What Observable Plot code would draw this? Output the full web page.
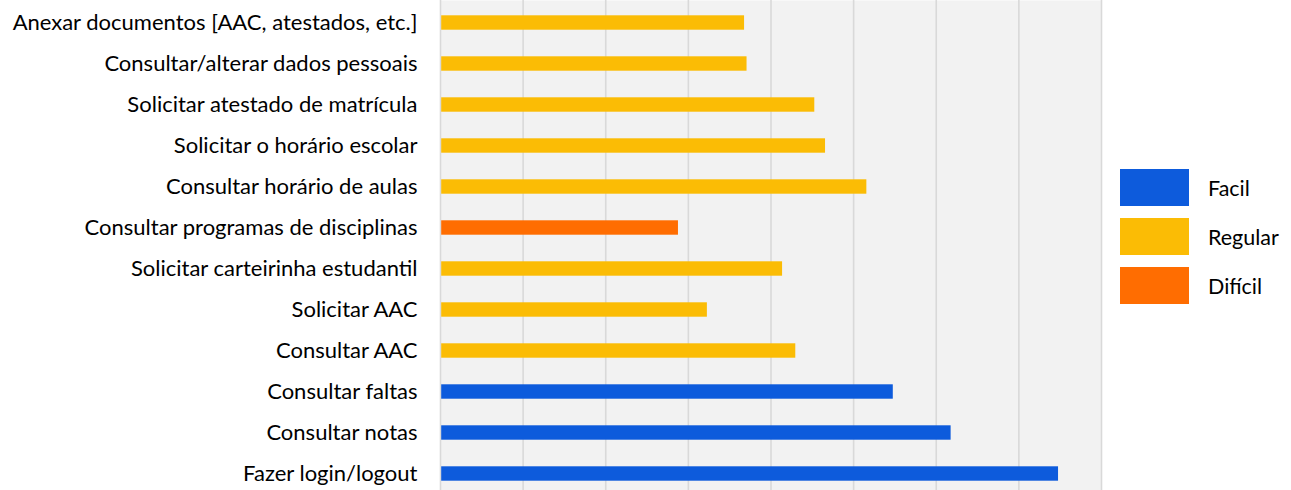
<!DOCTYPE html>
<html>
<head>
<meta charset="utf-8">
<script src="https://cdn.jsdelivr.net/npm/d3@7"></script>
<script src="https://cdn.jsdelivr.net/npm/@observablehq/plot@0.6"></script>
<style>
  html, body { margin: 0; padding: 0; background: #fff; }
  #wrap { position: relative; width: 1291px; height: 490px; overflow: hidden; }
  #legend { position: absolute; left: 1120px; top: 169px; font-family: Lato, sans-serif; font-size: 21.5px; color: #000; }
  .item { display: flex; align-items: center; height: 37px; margin-bottom: 12px; }
  .sw { width: 69px; height: 37px; margin-right: 19px; }
</style>
</head>
<body>
<div id="wrap"></div>
<script>
const tasks = [
  "Anexar documentos [AAC, atestados, etc.]",
  "Consultar/alterar dados pessoais",
  "Solicitar atestado de matrícula",
  "Solicitar o horário escolar",
  "Consultar horário de aulas",
  "Consultar programas de disciplinas",
  "Solicitar carteirinha estudantil",
  "Solicitar AAC",
  "Consultar AAC",
  "Consultar faltas",
  "Consultar notas",
  "Fazer login/logout"
];
const values = [3.68, 3.71, 4.53, 4.66, 5.16, 2.88, 4.14, 3.23, 4.30, 5.48, 6.18, 7.48];
const levels = ["Regular", "Regular", "Regular", "Regular", "Regular", "Difícil", "Regular", "Regular", "Regular", "Facil", "Facil", "Facil"];
const categories = ["Facil", "Regular", "Difícil"];
const colors = ["#0d5bdc", "#fbbc05", "#ff6d01"];
const gridTicks = [0, 1, 2, 3, 4, 5, 6, 7, 8];

const data = tasks.map((t, i) => ({task: t, value: values[i], level: levels[i]}));

const chart = Plot.plot({
  width: 1291,
  height: 490,
  marginLeft: 440,
  marginRight: 190,
  marginTop: 0,
  marginBottom: 0,
  style: {fontFamily: "Lato, sans-serif", fontSize: "22px", color: "#000", background: "#fff"},
  x: {domain: [0, 8], axis: null},
  y: {domain: tasks, range: [1.45, 494.5], padding: 0, axis: null},
  color: {domain: categories, range: colors},
  marks: [
    Plot.frame({fill: "#f2f2f2", stroke: null}),
    Plot.ruleX(gridTicks, {stroke: "#d9d9d9", strokeWidth: 1.6}),
    Plot.barX(data, {y: "task", x: "value", fill: "level", insetTop: 13.3, insetBottom: 13.3, insetLeft: 1.2}),
    Plot.axisY({tickSize: 0, tickPadding: 23, fontSize: 22, fill: "#000", label: null})
  ]
});
document.getElementById("wrap").appendChild(chart);

const legend = document.createElement("div");
legend.id = "legend";
categories.forEach((c, i) => {
  const item = document.createElement("div");
  item.className = "item";
  const sw = document.createElement("div");
  sw.className = "sw";
  sw.style.background = colors[i];
  const lab = document.createElement("span");
  lab.textContent = c;
  item.appendChild(sw);
  item.appendChild(lab);
  legend.appendChild(item);
});
document.getElementById("wrap").appendChild(legend);
</script>
</body>
</html>
